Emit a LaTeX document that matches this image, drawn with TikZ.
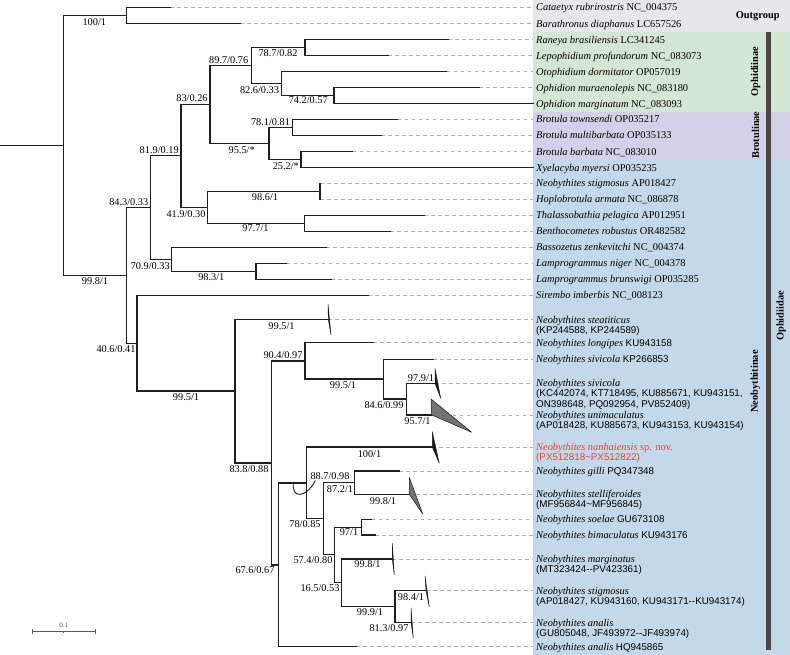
\documentclass[tikz,border=0pt]{standalone}
\usepackage{fontspec}
\setmainfont{Liberation Serif}
\newfontfamily\arialf{Liberation Sans}
\definecolor{cOut}{RGB}{231,230,233}
\definecolor{cOph}{RGB}{212,231,212}
\definecolor{cBro}{RGB}{212,208,231}
\definecolor{cNeo}{RGB}{195,216,232}
\definecolor{cBar}{RGB}{75,69,68}
\definecolor{nred}{RGB}{232,65,55}
\newcommand\mlab[1]{\begin{tabular}[t]{@{}l@{}}#1\end{tabular}}
\newcommand\acc[1]{{\arialf\fontsize{9.8}{10}\selectfont #1}}
\newcommand\leaf[5]{%
  \coordinate (t#1) at (#3,#4);
  \coordinate (e#1) at (533,#4);
  \draw[lead] (t#1) -- (e#1);
  \draw[br] (#2) |- (t#1);
  \node[tax] (l#1) at (536,#4+3.5) {#5};
}
\tikzset{
  br/.style={line width=1.05pt, draw=black!88, line cap=rect},
  lead/.style={draw=black!32, line width=0.6pt, dash pattern=on 3.5pt off 3.5pt},
  supp/.style={font=\fontsize{10.3}{12}\selectfont, inner sep=0pt, text height=7pt, text depth=0pt, anchor=center},
  tax/.style={font=\fontsize{10.4}{10}\selectfont, inner sep=0pt, anchor=base west},
  clade/.style={font=\bfseries\fontsize{10.4}{12}\selectfont, inner sep=0pt, rotate=90},
  tri/.style={fill=black!90, draw=black!90, line width=0.4pt, line join=round},
  gtri/.style={fill=black!55, draw=black!90, line width=0.5pt, line join=round},
  sbar/.style={draw=black!65, line width=0.8pt},
}
\begin{document}
\begin{tikzpicture}[x=1pt,y=-1pt]
\useasboundingbox (0,0) rectangle (790,655);
% background bands
\fill[cOut] (533,0) rectangle (790,31.7);
\fill[cOph] (533,31.7) rectangle (790,111.7);
\fill[cBro] (533,111.7) rectangle (790,160);
\fill[cNeo] (533,160) rectangle (790,655);
\fill[cBar] (765.5,32.3) rectangle (770.5,650);
% internal nodes
\coordinate (R0) at (0,145.6);
\coordinate (R) at (63.3,145.6);
\coordinate (OG) at (126.7,15.6);
\coordinate (N998) at (126.7,275.5);
\coordinate (N843) at (150.7,207.5);
\coordinate (N406) at (137,343.2);
\coordinate (N819) at (181,155.5);
\coordinate (N709) at (171.7,259.2);
\coordinate (N83) at (210,104.7);
\coordinate (N419) at (207.3,207.5);
\coordinate (N897) at (251.7,65.5);
\coordinate (N955) at (269,143.8);
\coordinate (N787) at (305,47.7);
\coordinate (N826) at (281.7,83.7);
\coordinate (N742) at (334,95.7);
\coordinate (N781) at (292.3,127.3);
\coordinate (N252) at (301,159.7);
\coordinate (N986) at (320,191.5);
\coordinate (N977) at (304.3,223.3);
\coordinate (N983) at (256,271.3);
\coordinate (N995a) at (235,391);
\coordinate (N838) at (271.7,463);
\coordinate (N904) at (305,361);
\coordinate (N676) at (278.3,565);
\coordinate (N995b) at (383.3,379);
\coordinate (N846) at (406.7,399);
\coordinate (N887) at (306.7,483);
\coordinate (N78) at (323.3,518.7);
\coordinate (N872) at (354.3,482.7);
\coordinate (N574) at (334.3,554.8);
\coordinate (N97) at (361.7,527.2);
\coordinate (N165) at (341.7,582.8);
\coordinate (N999) at (395,606.7);
% internal edges
\draw[br] (R0) -- (R);
\foreach \p/\c in {R/OG,R/N998,N998/N843,N998/N406,N843/N819,N843/N709,N819/N83,N819/N419,N83/N897,N83/N955,N897/N787,N897/N826,N826/N742,N955/N781,N955/N252,N419/N986,N419/N977,N709/N983,N406/N995a,N995a/N838,N838/N904,N838/N676,N904/N995b,N995b/N846,N676/N887,N887/N78,N78/N872,N78/N574,N574/N97,N574/N165,N165/N999}
  \draw[br] (\p) |- (\c);
% leaves
\leaf{1}{OG}{170}{7.5}{\textit{Cataetyx rubrirostris} NC\_004375}
\leaf{2}{OG}{240}{23.7}{\textit{Barathronus diaphanus} LC657526}
\leaf{3}{N787}{448.3}{39.7}{\textit{Raneya brasiliensis} LC341245}
\leaf{4}{N787}{388.3}{55.7}{\textit{Lepophidium profundorum} NC\_083073}
\leaf{5}{N826}{446.7}{71.7}{\textit{Otophidium dormitator} OP057019}
\leaf{6}{N742}{479.3}{87.7}{\textit{Ophidion muraenolepis} NC\_083180}
\leaf{7}{N742}{533}{103.7}{\textit{Ophidion marginatum} NC\_083093}
\leaf{8}{N781}{397.7}{119.3}{\textit{Brotula townsendi} OP035217}
\leaf{9}{N781}{381}{135.3}{\textit{Brotula multibarbata} OP035133}
\leaf{10}{N252}{352.7}{151.7}{\textit{Brotula barbata} NC\_083010}
\leaf{11}{N252}{533}{167.7}{\textit{Xyelacyba myersi} OP035235}
\leaf{12}{N986}{320}{183.5}{\textit{Neobythites stigmosus} AP018427}
\leaf{13}{N986}{320}{199.5}{\textit{Hoplobrotula armata} NC\_086878}
\leaf{14}{N977}{424}{215.3}{\textit{Thalassobathia pelagica} AP012951}
\leaf{15}{N977}{390}{231.3}{\textit{Benthocometes robustus} OR482582}
\leaf{16}{N709}{326}{247.3}{\textit{Bassozetus zenkevitchi} NC\_004374}
\leaf{17}{N983}{286.7}{263.3}{\textit{Lamprogrammus niger} NC\_004378}
\leaf{18}{N983}{331}{279.3}{\textit{Lamprogrammus brunswigi} OP035285}
\leaf{19}{N406}{368.3}{295.3}{\textit{Sirembo imberbis} NC\_008123}
\leaf{20}{N995a}{328.3}{319.5}{\mlab{\textit{Neobythites steatiticus}\\\acc{(KP244588, KP244589)}}}
\leaf{21}{N904}{373.3}{342.7}{\textit{Neobythites longipes} \acc{KU943158}}
\leaf{22}{N995b}{433.3}{359.3}{\textit{Neobythites sivicola} \acc{KP266853}}
\leaf{23}{N846}{435}{383.3}{\mlab{\textit{Neobythites sivicola}\\\acc{(KC442074, KT718495, KU885671, KU943151,}\\\acc{ON398648, PQ092954, PV852409)}}}
\leaf{24}{N846}{431.7}{415}{\mlab{\textit{Neobythites unimaculatus}\\\acc{(AP018428, KU885673, KU943153, KU943154)}}}
\leaf{25}{N887}{432.3}{447}{\color{nred}\mlab{\textit{Neobythites nanhaiensis} sp. nov.\\\acc{(PX512818\textasciitilde PX512822)}}}
\leaf{26}{N872}{399}{471}{\textit{Neobythites gilli} \acc{PQ347348}}
\leaf{27}{N872}{409.3}{494.3}{\mlab{\textit{Neobythites stelliferoides}\\\acc{(MF956844\textasciitilde MF956845)}}}
\leaf{28}{N97}{371.7}{519.3}{\textit{Neobythites soelae} \acc{GU673108}}
\leaf{29}{N97}{375}{535}{\textit{Neobythites bimaculatus} \acc{KU943176}}
\leaf{30}{N165}{392.3}{559}{\mlab{\textit{Neobythites marginatus}\\\acc{(MT323424--PV423361)}}}
\leaf{31}{N999}{426}{590.7}{\mlab{\textit{Neobythites stigmosus}\\\acc{(AP018427, KU943160, KU943171--KU943174)}}}
\leaf{32}{N999}{411}{622.7}{\mlab{\textit{Neobythites analis}\\\acc{(GU805048, JF493972--JF493974)}}}
\leaf{33}{N676}{356}{646.7}{\textit{Neobythites analis} \acc{HQ945865}}
% collapsed clades
\fill[tri] (t20) -- (328,304) -- (331,335) -- cycle;
\fill[tri] (t23) -- (435,368.3) -- (440.7,398.3) -- cycle;
\filldraw[gtri] (t24) -- (431,399) -- (471.7,432.3) -- cycle;
\fill[tri] (t25) -- (432.3,431.7) -- (439.3,463.3) -- cycle;
\filldraw[gtri] (t27) -- (409.3,477.3) -- (422.7,514) -- cycle;
\fill[tri] (t30) -- (392.3,543.3) -- (394.3,575) -- cycle;
\fill[tri] (t31) -- (425,575.7) -- (429.3,606.7) -- cycle;
\fill[tri] (t32) -- (411,607.7) -- (413.3,637.7) -- cycle;
% hook leader for 88.7/0.98
\coordinate (hookA) at (293.3,483.6);
\coordinate (hookB) at (315.5,480.5);
\draw[line width=0.9pt, black!88] (hookA) .. controls (292,499) and (306,498) .. (hookB);
% support values
\node[supp] (s1) at (94.3,21.7) {100/1};
\node[supp] (s2) at (95,280.7) {99.8/1};
\node[supp] (s3) at (128.8,201.7) {84.3/0.33};
\node[supp] (s4) at (159.2,150) {81.9/0.19};
\node[supp] (s5) at (150.3,266) {70.9/0.33};
\node[supp] (s6) at (192,98.3) {83/0.26};
\node[supp] (s7) at (186,214.3) {41.9/0.30};
\node[supp] (s8) at (228.7,60) {89.7/0.76};
\node[supp] (s9) at (241.7,150) {95.5/*};
\node[supp] (s10) at (278,53.3) {78.7/0.82};
\node[supp] (s11) at (259.5,90) {82.6/0.33};
\node[supp] (s12) at (308.3,100) {74.2/0.57};
\node[supp] (s13) at (270.5,122.3) {78.1/0.81};
\node[supp] (s14) at (285.8,165.7) {25.2/*};
\node[supp] (s15) at (265,197.3) {98.6/1};
\node[supp] (s16) at (255.5,228.3) {97.7/1};
\node[supp] (s17) at (211.3,277.3) {98.3/1};
\node[supp] (s18) at (116,349.3) {40.6/0.41};
\node[supp] (s19) at (186,396.7) {99.5/1};
\node[supp] (s20) at (281.5,325.5) {99.5/1};
\node[supp] (s21) at (283,355) {90.4/0.97};
\node[supp] (s22) at (343,385.3) {99.5/1};
\node[supp] (s23) at (384,405) {84.6/0.99};
\node[supp] (s24) at (421,377.7) {97.9/1};
\node[supp] (s25) at (417.5,420.7) {95.7/1};
\node[supp] (s26) at (369.5,454) {100/1};
\node[supp] (s27) at (249,469) {83.8/0.88};
\node[supp] (s28) at (330,475.7) {88.7/0.98};
\node[supp] (s29) at (340,489) {87.2/1};
\node[supp] (s30) at (383,501) {99.8/1};
\node[supp] (s31) at (305,524) {78/0.85};
\node[supp] (s32) at (349,532) {97/1};
\node[supp] (s33) at (313,560) {57.4/0.80};
\node[supp] (s34) at (367.5,564.3) {99.8/1};
\node[supp] (s35) at (255,570) {67.6/0.67};
\node[supp] (s36) at (320,588.3) {16.5/0.53};
\node[supp] (s37) at (411,596.7) {98.4/1};
\node[supp] (s38) at (370,612.3) {99.9/1};
\node[supp] (s39) at (389,628.3) {81.3/0.97};
% clade labels
\node[font=\bfseries\fontsize{10.4}{12}\selectfont, inner sep=0pt] (c0) at (757.7,16.7) {Outgroup};
\node[clade] (c1) at (755.5,71.5) {Ophidiinae};
\node[clade] (c2) at (755.5,135) {Brotulinae};
\node[clade] (c3) at (755.5,381.5) {Neobythitinae};
\node[clade] (c4) at (781,316) {Ophidiidae};
% scale bar
\coordinate (sb1) at (32.7,631.7);
\coordinate (sb2) at (95,631.7);
\draw[sbar] (sb1) -- (sb2);
\draw[sbar] (32.7,629) -- (32.7,634.4);
\draw[sbar] (95,629) -- (95,634.4);
\draw[sbar] (63.8,630.5) -- (63.8,632.9);
\node[font=\fontsize{7}{8}\selectfont, text=black!70, inner sep=0pt] (sbl) at (63.8,625.3) {0.1};
\end{tikzpicture}
\end{document}
